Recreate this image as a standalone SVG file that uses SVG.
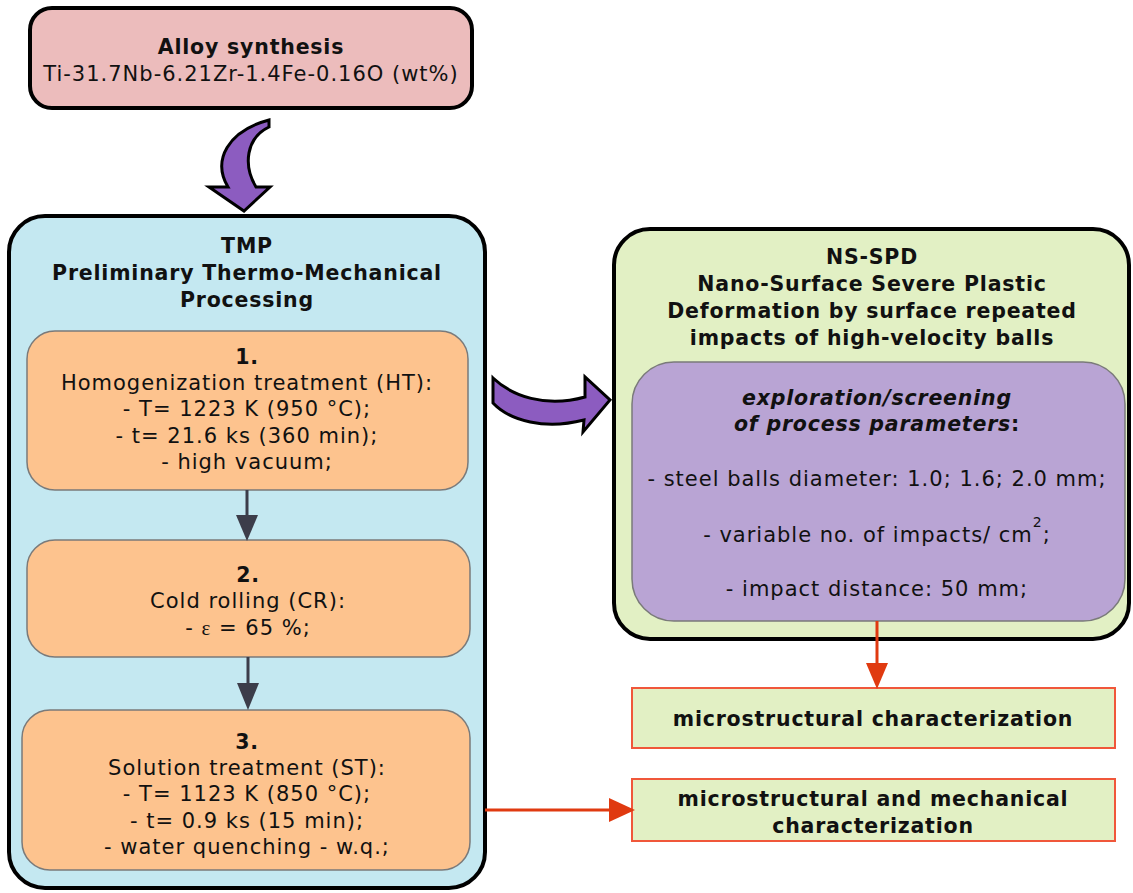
<svg xmlns="http://www.w3.org/2000/svg" width="1133" height="893" viewBox="0 0 1133 893">
<defs>
<style>
text{font-family:"DejaVu Sans","Verdana",sans-serif;fill:#111;text-anchor:middle}
.b{font-weight:bold;font-size:20.5px;letter-spacing:0.8px}
.r{font-size:21px;letter-spacing:1px}
.big{stroke:#000;stroke-width:4}
.step{fill:#fdc38e;stroke:#7a7a7a;stroke-width:1.5}
.res{fill:#e2f0c4;stroke:#f0573a;stroke-width:2}
.curve{fill:#8c5cc0;stroke:#000;stroke-width:3;stroke-linejoin:miter}
.gl{stroke:#3c3d4a;stroke-width:3}
.ga{fill:#3c3d4a}
.rl{stroke:#e03a10;stroke-width:3}
.ra{fill:#e03a10}
</style>
</defs>
<rect width="1133" height="893" fill="#fff"/>

<g id="alloy">
<rect x="30" y="8" width="442" height="100" rx="22" fill="#ecbcbc" class="big"/>
<text class="b" x="251" y="54">Alloy synthesis</text>
<text class="r" x="251" y="81">Ti-31.7Nb-6.21Zr-1.4Fe-0.16O (wt%)</text>
</g>

<g id="tmp">
<rect x="9" y="216" width="476" height="672" rx="36" fill="#c4e8f1" class="big"/>
<text class="b" x="247" y="253">TMP</text>
<text class="b" x="247" y="280">Preliminary Thermo-Mechanical</text>
<text class="b" x="247" y="307">Processing</text>
</g>

<g id="step1">
<rect x="27" y="331" width="441" height="159" rx="28" class="step"/>
<text class="b" x="247" y="364">1.</text>
<text class="r" x="247" y="390">Homogenization treatment (HT):</text>
<text class="r" x="247" y="416">- T= 1223 K (950 °C);</text>
<text class="r" x="247" y="443">- t= 21.6 ks (360 min);</text>
<text class="r" x="247" y="469">- high vacuum;</text>
</g>

<g id="step2">
<rect x="27" y="540" width="443" height="117" rx="28" class="step"/>
<text class="b" x="248" y="582">2.</text>
<text class="r" x="248" y="608">Cold rolling (CR):</text>
<text class="r" x="248" y="635">- <tspan font-family="Liberation Serif,serif">ε</tspan> = 65 %;</text>
</g>

<g id="step3">
<rect x="22" y="710" width="448" height="160" rx="28" class="step"/>
<text class="b" x="247" y="749">3.</text>
<text class="r" x="247" y="775">Solution treatment (ST):</text>
<text class="r" x="247" y="801">- T= 1123 K (850 °C);</text>
<text class="r" x="247" y="828">- t= 0.9 ks (15 min);</text>
<text class="r" x="247" y="854">- water quenching - w.q.;</text>
</g>

<g id="nsspd">
<rect x="614" y="229" width="515" height="410" rx="36" fill="#e2f0c4" class="big"/>
<text class="b" x="872" y="264">NS-SPD</text>
<text class="b" x="872" y="291">Nano-Surface Severe Plastic</text>
<text class="b" x="872" y="318">Deformation by surface repeated</text>
<text class="b" x="872" y="345">impacts of high-velocity balls</text>
</g>

<g id="params">
<rect x="632" y="362" width="493" height="259" rx="42" fill="#b9a4d4" stroke="#7a7a7a" stroke-width="1.5"/>
<text class="b" x="877" y="405" font-style="italic">exploration/screening</text>
<text class="b" x="877" y="431"><tspan font-style="italic">of process parameters</tspan>:</text>
<text class="r" x="877" y="486">- steel balls diameter: 1.0; 1.6; 2.0 mm;</text>
<text class="r" x="877" y="542">- variable no. of impacts/ cm<tspan font-size="14" dy="-15">2</tspan><tspan dy="15">;</tspan></text>
<text class="r" x="877" y="596">- impact distance: 50 mm;</text>
</g>

<g id="micro">
<rect x="632" y="688" width="483" height="60" class="res"/>
<text class="b" x="873" y="726">microstructural characterization</text>
</g>

<g id="micromech">
<rect x="632" y="779" width="483" height="62" class="res"/>
<text class="b" x="873" y="806">microstructural and mechanical</text>
<text class="b" x="873" y="833">characterization</text>
</g>

<g id="connectors">
<path class="curve" d="M269,120 C228,131 212,160 228,187 L209,187 L244,211 L270,187 L256,187 C243,165 246,138 269,127 Z"/>
<path class="curve" d="M493,378 C512,396 545,408 585,397 L585,377 L610,400 L583,432 L584,420 C545,430 510,421 493,403 Z"/>
<line x1="247" y1="490" x2="247" y2="518" class="gl"/>
<path d="M236,515 L258,515 L247,541 Z" class="ga"/>
<line x1="248" y1="657" x2="248" y2="686" class="gl"/>
<path d="M237,683 L259,683 L248,710 Z" class="ga"/>
<line x1="877" y1="621" x2="877" y2="665" class="rl"/>
<path d="M866,663 L888,663 L877,689 Z" class="ra"/>
<line x1="485" y1="810" x2="612" y2="810" class="rl"/>
<path d="M609,798 L609,822 L635,810 Z" class="ra"/>
</g>
</svg>
